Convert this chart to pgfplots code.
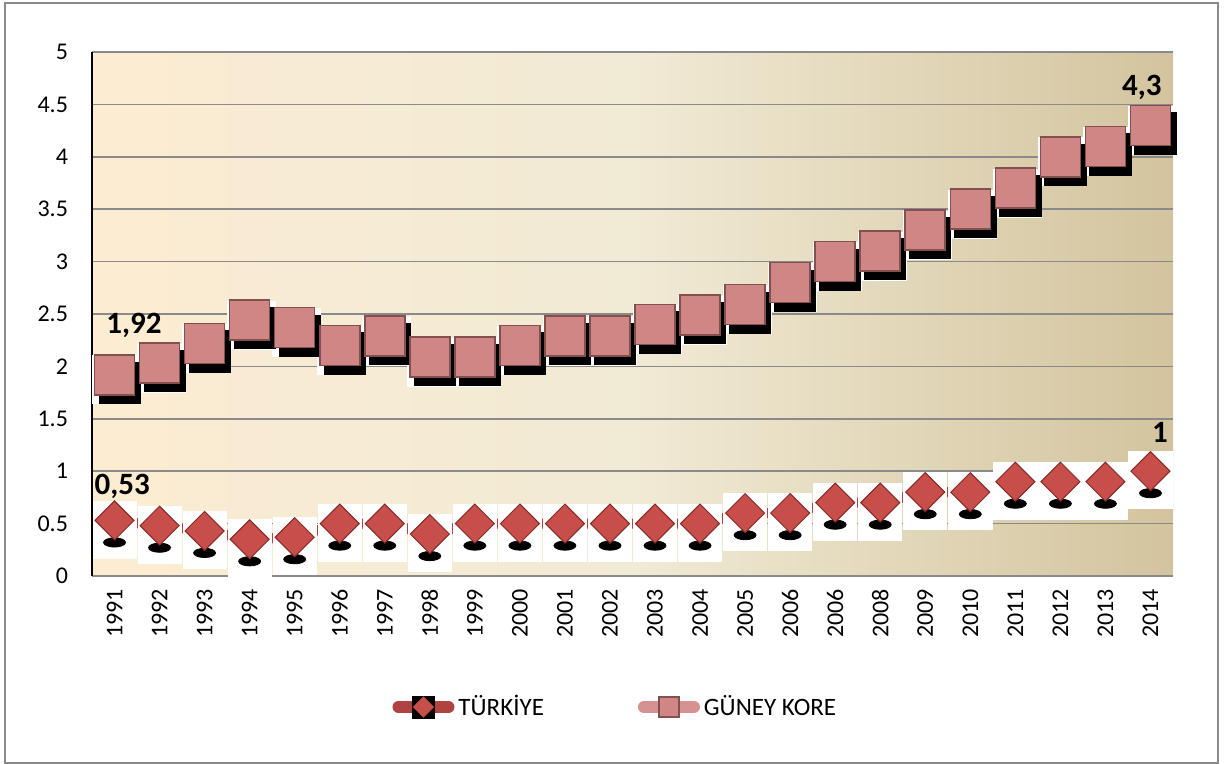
\documentclass[border=0pt]{standalone}
\usepackage{pgfplots}
\usepackage{pgfplotstable}
\pgfplotsset{compat=1.18}
\usepackage{fontspec}
\setmainfont{Carlito}
\definecolor{bgL}{RGB}{252,236,210}
\definecolor{bgM}{RGB}{241,234,213}
\definecolor{bgR}{RGB}{211,196,158}
\definecolor{trFill}{RGB}{200,78,74}
\definecolor{trDraw}{RGB}{130,42,40}
\definecolor{trLine}{RGB}{176,66,63}
\definecolor{krFill}{RGB}{208,134,132}
\definecolor{krDraw}{RGB}{130,80,79}
\definecolor{krLine}{RGB}{214,146,144}
\definecolor{gridc}{RGB}{138,138,138}
\pgfplotstableread{
x tr kr
0 0.53 1.92
1 0.48 2.03
2 0.43 2.22
3 0.35 2.44
4 0.37 2.37
5 0.50 2.20
6 0.50 2.29
7 0.40 2.09
8 0.50 2.09
9 0.50 2.20
10 0.50 2.29
11 0.50 2.29
12 0.50 2.40
13 0.50 2.49
14 0.60 2.59
15 0.60 2.80
16 0.70 3.00
17 0.70 3.10
18 0.80 3.30
19 0.80 3.50
20 0.90 3.70
21 0.90 4.00
22 0.90 4.10
23 1.00 4.30
}\data
\begin{document}
\begin{tikzpicture}
\useasboundingbox (-46pt,-94pt) rectangle (567pt,288pt);
\begin{axis}[
  at={(0pt,0pt)}, anchor=south west, scale only axis,
  width=540.5pt, height=262pt,
  xmin=-0.5, xmax=23.5, ymin=0, ymax=5,
  clip=false,
  axis x line*=bottom, axis y line*=left,
  x axis line style={gridc, line width=0.8pt, -},
  y axis line style={black, line width=0.8pt, -},
  xtick={0,...,23},
  xticklabels={1991,1992,1993,1994,1995,1996,1997,1998,1999,2000,2001,2002,2003,2004,2005,2006,2006,2008,2009,2010,2011,2012,2013,2014},
  ytick={0,0.5,1,1.5,2,2.5,3,3.5,4,4.5,5},
  yticklabels={0,0.5,1,1.5,2,2.5,3,3.5,4,4.5,5},
  major tick length=0pt,
  xticklabel shift=3pt,
  yticklabel shift=8.5pt,
  x tick label style={rotate=90, anchor=east, font=\fontsize{12}{14}\selectfont},
  y tick label style={font=\fontsize{12}{14}\selectfont},
  ymajorgrids, grid style={gridc, line width=0.8pt},
  axis background/.style={left color=bgL, right color=bgR, middle color=bgM},
  legend columns=2,
  legend style={at={(0.485,-0.25)}, anchor=center, draw=none, fill=none,
    font=\fontsize{12.5}{14}\selectfont,
    /tikz/every even column/.append style={column sep=45pt}},
  legend cell align=left,
]
% ---- Turkiye
\addplot[trLine, line width=5pt, forget plot] table[x=x,y=tr]{\data};
\addplot[only marks, mark=square*, mark size=10.8pt, white,
  mark options={yshift=-4.5pt, yscale=1.32, draw=white, fill=white}, forget plot] table[x=x,y=tr]{\data};
\addplot[only marks, mark=*, mark size=5.5pt, black,
  mark options={yshift=-11pt, yscale=0.42, draw=black, fill=black}, forget plot] table[x=x,y=tr]{\data};
\addplot[only marks, mark=square*, mark size=6.9pt,
  mark options={rotate=45, fill=trFill, draw=trDraw, line width=0.5pt}, forget plot] table[x=x,y=tr]{\data};
% ---- Guney Kore
\addplot[only marks, mark=square*, mark size=12pt, white,
  mark options={xshift=1pt, yshift=-2.5pt, draw=white, fill=white}, forget plot] table[x=x,y=kr]{\data};
\addplot[only marks, mark=square*, mark size=10.3pt, black,
  mark options={xshift=2.5pt, yshift=-4pt, draw=black, fill=black, rounded corners=3pt}, forget plot] table[x=x,y=kr]{\data};
\addplot[krLine, line width=4pt, forget plot] table[x=x,y=kr]{\data};
\addplot[only marks, mark=square*, mark size=10pt,
  mark options={fill=krFill, draw=krDraw, line width=0.8pt}, forget plot] table[x=x,y=kr]{\data};
% ---- data labels
\node[font=\bfseries\fontsize{15.5}{18}\selectfont] at (axis cs:0.43,2.39) {1,92};
\node[font=\bfseries\fontsize{15.5}{18}\selectfont] at (axis cs:0.17,0.855) {0,53};
\node[font=\bfseries\fontsize{15.5}{18}\selectfont] at (axis cs:22.81,4.66) {4,3};
\node[font=\bfseries\fontsize{15.5}{18}\selectfont] at (axis cs:23.21,1.37) {1};
% ---- legend
\addlegendimage{legend image code/.code={
  \draw[line width=6pt, line cap=round, trLine] (3pt,0pt) -- (28pt,0pt);
  \fill[black] (10pt,-5.5pt) rectangle (21pt,5.5pt);
  \fill[trFill] (15.5pt,-5pt) -- (20.5pt,0pt) -- (15.5pt,5pt) -- (10.5pt,0pt) -- cycle;
}}
\addlegendentry{TÜRKİYE}
\addlegendimage{legend image code/.code={
  \draw[line width=6pt, line cap=round, krLine] (3pt,0pt) -- (28pt,0pt);
  \filldraw[fill=krFill, draw=krDraw, line width=0.8pt] (10.5pt,-5pt) rectangle (20.5pt,5pt);
}}
\addlegendentry{GÜNEY KORE}
\end{axis}
\draw[gridc, line width=0.8pt] (-43.5pt,-93.5pt) rectangle (563pt,286.5pt);
\end{tikzpicture}
\end{document}
